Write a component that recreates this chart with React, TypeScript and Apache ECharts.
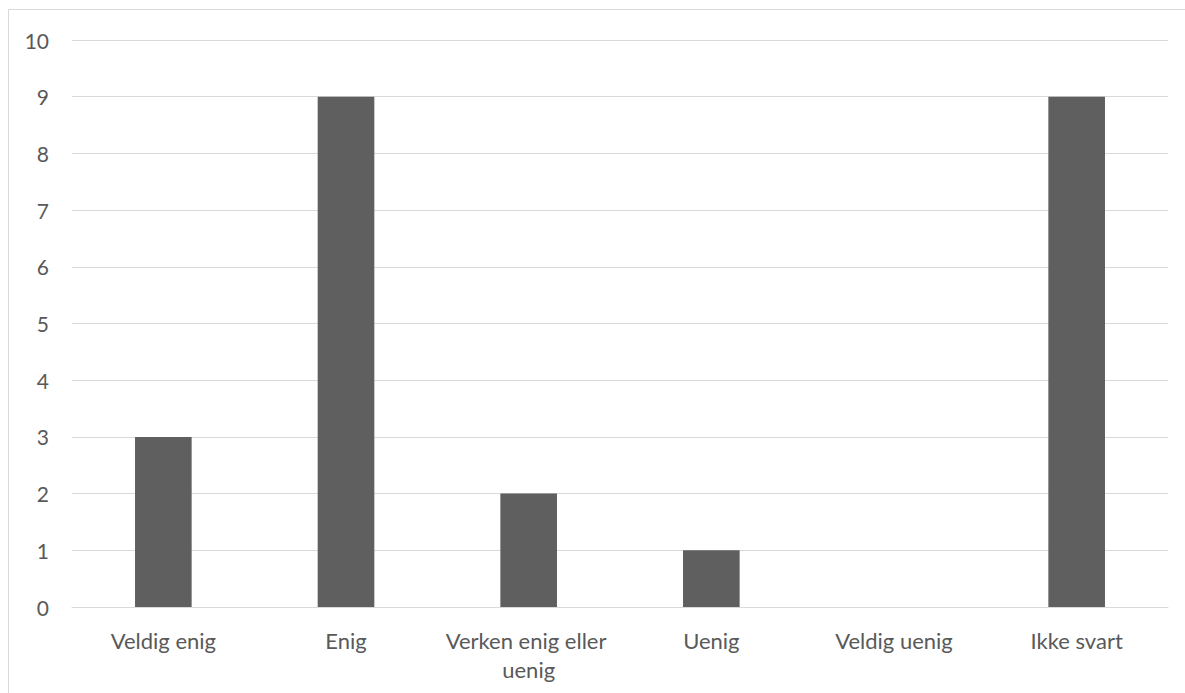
import React, { useEffect, useRef } from "react";
import * as echarts from "echarts";

const categories = ["Veldig enig", "Enig", "Verken enig eller uenig", "Uenig", "Veldig uenig", "Ikke svart"];
const values = [3, 9, 2, 1, 0, 9];
const yTicks = { min: 0, max: 10, interval: 1 };

export default function App() {
  const ref = useRef<HTMLDivElement>(null);
  useEffect(() => {
    document.body.style.margin = "0";
    const chart = echarts.init(ref.current!, null, { renderer: "svg" });
    const font = "Lato";
    chart.setOption({
      animation: false,
      backgroundColor: "#ffffff",
      grid: { left: 72, right: 17, top: 40, bottom: 86, containLabel: false },
      xAxis: {
        type: "category",
        data: categories,
        axisLine: { show: true, lineStyle: { color: "#d9d9d9", width: 1 } },
        axisTick: { show: false },
        axisLabel: {
          color: "#595959",
          fontFamily: font,
          fontSize: 22,
          lineHeight: 29,
          margin: 19,
          interval: 0,
          width: 175,
          overflow: "break",
        },
      },
      yAxis: {
        type: "value",
        min: yTicks.min,
        max: yTicks.max,
        interval: yTicks.interval,
        axisLine: { show: false },
        axisTick: { show: false },
        splitLine: { lineStyle: { color: "#d9d9d9", width: 1 } },
        axisLabel: { color: "#595959", fontFamily: font, fontSize: 21, margin: 23 },
      },
      series: [
        {
          type: "bar",
          data: values,
          barWidth: "31%",
          itemStyle: { color: "#5f5f5f" },
        },
      ],
      graphic: [
        {
          type: "rect",
          shape: { x: 8.5, y: 9.5, width: 1300, height: 800 },
          style: { fill: "none", stroke: "#d9d9d9", lineWidth: 1 },
          silent: true,
        },
      ],
    });
    return () => chart.dispose();
  }, []);
  return <div ref={ref} style={{ position: "absolute", left: 0, top: 0, width: 1185, height: 693 }} />;
}
